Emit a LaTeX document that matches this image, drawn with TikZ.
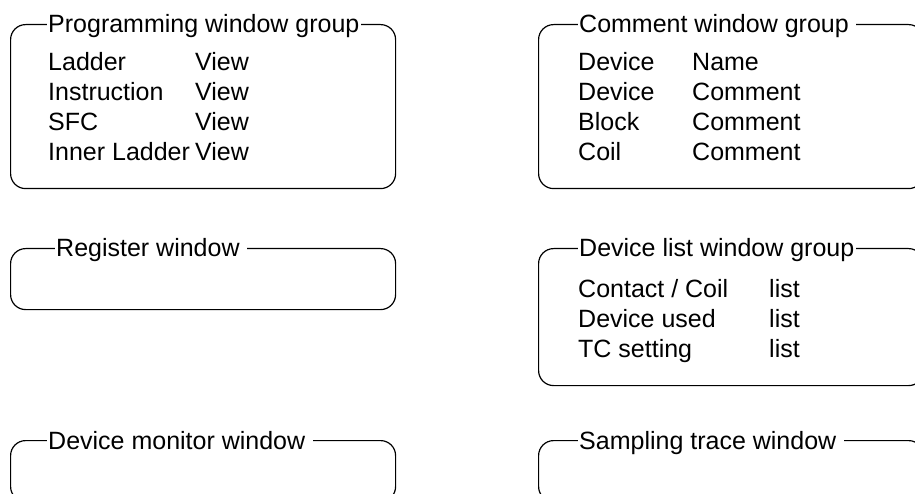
\documentclass[tikz,border=0pt]{standalone}
\usepackage{fontspec}
\setmainfont{Liberation Sans}

\begin{document}
\begin{tikzpicture}[x=1pt,y=-1pt,
    frame/.style={draw, line width=1.2pt, rounded corners=15pt,
      anchor=north west, minimum width=385pt, inner sep=0pt},
    title/.style={anchor=base west, fill=white, inner xsep=1.5pt,
      inner ysep=1pt, font=\fontsize{25pt}{30pt}\selectfont},
    entry/.style={anchor=base west, inner sep=0pt,
      font=\fontsize{25pt}{30pt}\selectfont}]
  \useasboundingbox (0,0) rectangle (915,494);
  \clip (0,0) rectangle (915,494);
  \newcommand{\titleGap}{\hspace*{6pt}}

  % window frames
  \node[frame, minimum height=164pt] (prog) at (10,24) {};
  \node[frame, minimum height=164pt] (comm) at (538,24) {};
  \node[frame, minimum height=61pt] (reg) at (10,248) {};
  \node[frame, minimum height=137pt] (list) at (538,248) {};
  \node[frame, minimum height=61pt] (mon) at (10,440) {};
  \node[frame, minimum height=61pt] (trace) at (538,440) {};

  % titles on the top lines
  \node[title] (progT) at ([xshift=36.5pt,yshift=-9pt]prog.north west) {Programming window group};
  \node[title] (commT) at ([xshift=39.5pt,yshift=-9pt]comm.north west) {Comment window group\titleGap};
  \node[title] (regT) at ([xshift=44.5pt,yshift=-9pt]reg.north west) {Register window\titleGap};
  \node[title] (listT) at ([xshift=39.5pt,yshift=-9pt]list.north west) {Device list window group};
  \node[title] (monT) at ([xshift=36.5pt,yshift=-9pt]mon.north west) {Device monitor window\titleGap};
  \node[title] (traceT) at ([xshift=39.5pt,yshift=-9pt]trace.north west) {Sampling trace window\titleGap};

  % entries
  \foreach \a/\b [count=\i] in {Ladder/View, Instruction/View, SFC/View, Inner Ladder/View} {
    \node[entry] (progA\i) at (48,41+30*\i) {\a};
    \node[entry] (progB\i) at (195,41+30*\i) {\b};
  }
  \foreach \a/\b [count=\i] in {Device/Name, Device/Comment, Block/Comment, Coil/Comment} {
    \node[entry] (commA\i) at (578,41+30*\i) {\a};
    \node[entry] (commB\i) at (692,41+30*\i) {\b};
  }
  \foreach \a/\b [count=\i] in {{Contact / Coil}/list, {Device used}/list, {TC setting}/list} {
    \node[entry] (listA\i) at (578,267+30*\i) {\a};
    \node[entry] (listB\i) at (769,267+30*\i) {\b};
  }
\end{tikzpicture}
\end{document}
